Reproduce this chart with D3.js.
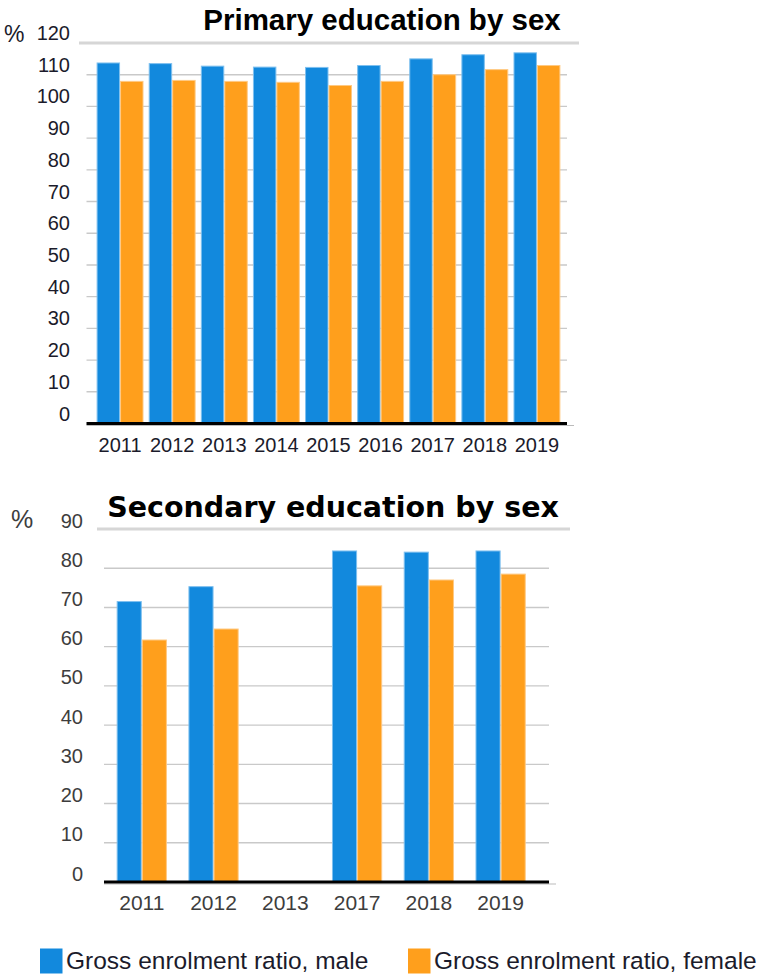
<!DOCTYPE html>
<html>
<head>
<meta charset="utf-8">
<script src="https://cdn.jsdelivr.net/npm/d3@7"></script>
<style>
  html, body { margin: 0; padding: 0; background: #fff; }
  svg { display: block; font-family: "Liberation Sans", Arial, sans-serif; }
</style>
</head>
<body>
<svg id="chart" width="759" height="974"></svg>
<script>
// Gross enrolment ratio (%) — primary education
const primaryYears = ["2011", "2012", "2013", "2014", "2015", "2016", "2017", "2018", "2019"];
const primaryMale = [113.7, 113.5, 112.7, 112.4, 112.3, 112.9, 115.0, 116.3, 116.9];
const primaryFemale = [107.9, 108.2, 107.9, 107.6, 106.6, 107.9, 110.0, 111.6, 112.9];
const primaryTicks = [0, 10, 20, 30, 40, 50, 60, 70, 80, 90, 100, 110, 120];

// Gross enrolment ratio (%) — secondary education (no value reported for 2013)
const secondaryYears = ["2011", "2012", "2013", "2017", "2018", "2019"];
const secondaryMale = [71.5, 75.3, null, 84.4, 84.1, 84.4];
const secondaryFemale = [61.7, 64.5, null, 75.5, 77.0, 78.5];
const secondaryTicks = [0, 10, 20, 30, 40, 50, 60, 70, 80, 90];

const seriesNames = ["Gross enrolment ratio, male", "Gross enrolment ratio, female"];
const seriesColors = ["#1289DD", "#FF9F1C"];
const seriesEdges = ["#7fc0ef", "#ffc983"];

const svg = d3.select("#chart");

function drawPanel(cfg) {
  const g = svg.append("g");
  const x = d3.scaleBand().domain(cfg.years).range(cfg.bandRange)
    .paddingInner(cfg.padIn).paddingOuter(cfg.padOut);
  const sub = d3.scaleBand().domain([0, 1]).range([0, x.bandwidth()]);
  const y = d3.scaleLinear().domain([0, cfg.max]).range(cfg.yRange);

  // gridlines and value labels
  const yAxis = d3.axisLeft(y).tickValues(cfg.ticks)
    .tickSize(-(cfg.gridEnd - cfg.gridStart)).tickPadding(cfg.labelPad);
  const ya = g.append("g").attr("transform", `translate(${cfg.gridStart},0)`).call(yAxis);
  ya.select(".domain").remove();
  ya.selectAll(".tick line").attr("stroke", "#c9c9c9").attr("stroke-width", 1.4);
  ya.selectAll(".tick text")
    .attr("dy", cfg.labelDy).attr("fill", cfg.labelColor)
    .style("font-size", cfg.labelSize + "px");
  // top gridline doubles as the title rule
  ya.selectAll(".tick").filter(d => d === cfg.max).select("line")
    .attr("x1", cfg.ruleStart - cfg.gridStart).attr("x2", cfg.ruleEnd - cfg.gridStart)
    .attr("stroke", "#d6d6d6").attr("stroke-width", 3.2);
  ya.selectAll(".tick").filter(d => d === 0).select("line").attr("stroke", "none");

  // bars
  const rows = cfg.years.map((yr, i) => ({ yr, vals: [cfg.male[i], cfg.female[i]] }));
  const grp = g.append("g").selectAll("g").data(rows).join("g")
    .attr("transform", d => `translate(${x(d.yr)},0)`);
  grp.selectAll("rect")
    .data(d => d.vals.map((v, k) => ({ v, k })).filter(e => e.v != null))
    .join("rect")
    .attr("x", e => sub(e.k) + 0.5)
    .attr("width", sub.bandwidth() - 1)
    .attr("y", e => y(e.v) + 0.5)
    .attr("height", e => y(0) - y(e.v) - 0.5)
    .attr("fill", e => seriesColors[e.k])
    .attr("stroke", e => seriesEdges[e.k])
    .attr("stroke-width", 1);

  // baseline
  g.append("line").attr("x1", cfg.gridStart).attr("x2", cfg.gridEnd + 7)
    .attr("y1", y(0) + 2.5).attr("y2", y(0) + 2.5)
    .attr("stroke", "#bbbbbb").attr("stroke-width", 1);
  g.append("line").attr("x1", cfg.gridStart).attr("x2", cfg.gridEnd)
    .attr("y1", y(0) + 0.5).attr("y2", y(0) + 0.5)
    .attr("stroke", "#000").attr("stroke-width", 3);

  // year labels
  const xa = g.append("g").attr("transform", `translate(0,${y(0)})`)
    .call(d3.axisBottom(x).tickSize(0).tickPadding(0));
  xa.select(".domain").remove();
  xa.selectAll(".tick text")
    .attr("y", cfg.yearBaseline - y(0)).attr("dy", 0)
    .attr("fill", cfg.labelColor)
    .style("font-size", cfg.yearSize + "px");

  // unit and title
  g.append("text").attr("x", cfg.pctX).attr("y", cfg.pctY)
    .attr("fill", cfg.labelColor).style("font-size", cfg.pctSize + "px").text("%");
  g.append("text").attr("x", cfg.titleX).attr("y", cfg.titleY)
    .attr("text-anchor", "middle").attr("fill", "#000")
    .style("font-family", cfg.titleFont).style("font-weight", "bold")
    .style("font-size", cfg.titleSize + "px").text(cfg.title);
}

drawPanel({
  title: "Primary education by sex", titleX: 382, titleY: 30, titleSize: 29.5,
  titleFont: "'Liberation Sans', Arial, sans-serif",
  years: primaryYears, male: primaryMale, female: primaryFemale,
  ticks: primaryTicks, max: 120,
  bandRange: [94, 563], padIn: 0.1, padOut: 0.05,
  yRange: [423, 42.5],
  gridStart: 86.5, gridEnd: 567, ruleStart: 79, ruleEnd: 579,
  labelPad: 16.5, labelDy: -3, labelSize: 20, labelColor: "#1b1b2b",
  yearBaseline: 451.5, yearSize: 20,
  pctX: 4, pctY: 42, pctSize: 23
});

drawPanel({
  title: "Secondary education by sex", titleX: 333, titleY: 517, titleSize: 28.5,
  titleFont: "'DejaVu Sans', Verdana, sans-serif",
  years: secondaryYears, male: secondaryMale, female: secondaryFemale,
  ticks: secondaryTicks, max: 90,
  bandRange: [105.9, 536.5], padIn: 0.3, padOut: 0.15,
  yRange: [881.5, 528.5],
  gridStart: 104, gridEnd: 549, ruleStart: 97, ruleEnd: 570,
  labelPad: 21, labelDy: -1.5, labelSize: 20, labelColor: "#3d3d3d",
  yearBaseline: 910, yearSize: 21,
  pctX: 11, pctY: 528, pctSize: 25
});

// legend
const legend = svg.append("g");
const legendX = [40, 408];
seriesNames.forEach((name, k) => {
  legend.append("rect").attr("x", legendX[k]).attr("y", 948.5)
    .attr("width", 22.5).attr("height", 25).attr("fill", seriesColors[k]);
  legend.append("text").attr("x", legendX[k] + 26).attr("y", 969)
    .attr("fill", "#1b1b2b").style("font-size", "24.5px").text(name);
});
</script>
</body>
</html>
